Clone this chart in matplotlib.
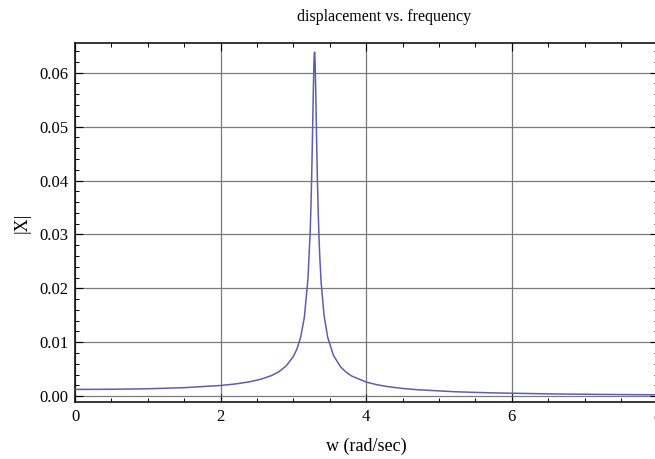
import matplotlib
matplotlib.use("Agg")
import matplotlib.pyplot as plt
from matplotlib.ticker import MultipleLocator, FormatStrFormatter

# Values
w_vals = [0.0, 0.5, 1.0, 1.5, 2.0, 2.2, 2.4, 2.55, 2.7, 2.8, 2.9, 3.0, 3.05, 3.1,
          3.15, 3.2, 3.23, 3.24, 3.25, 3.26, 3.27, 3.28, 3.285, 3.29, 3.295, 3.30,
          3.31, 3.32, 3.33, 3.34, 3.35, 3.36, 3.38, 3.42, 3.47, 3.55, 3.65, 3.72,
          3.8, 4.0, 4.15, 4.3, 4.5, 4.7, 5.2, 5.5, 5.8, 6.5, 7.2, 8.0]
x_vals = [0.00125, 0.00128, 0.001377, 0.001578, 0.001983, 0.002261, 0.002672,
          0.003131, 0.003829, 0.004534, 0.00560, 0.007377, 0.008817, 0.01099,
          0.01464, 0.02187, 0.03056, 0.03496, 0.04043, 0.0470, 0.0545, 0.0611,
          0.0631, 0.0638, 0.0629, 0.0607, 0.0539, 0.04623, 0.03965, 0.03425,
          0.02986, 0.02635, 0.02117, 0.01503, 0.01094, 0.007545, 0.005393,
          0.00449, 0.003733, 0.002614, 0.002115, 0.001765, 0.001435, 0.001201,
          0.000834, 0.000697, 0.000593, 0.000431, 0.000330, 0.000254]

title_text = "displacement vs. frequency"
xlabel_text = "w (rad/sec)"
ylabel_text = "|X|"

plt.rcParams['font.family'] = ['Liberation Serif', 'DejaVu Serif']

fig = plt.figure(figsize=(6.55, 4.59), dpi=100)
ax = fig.add_axes([75/655, 57/459, 582.5/655, 358.7/459])

ax.plot(w_vals, x_vals, color='#5e5eae', lw=1.1, zorder=3)

ax.set_xlim(0, 8)
ax.set_ylim(-0.00108, 0.06545)

ax.xaxis.set_major_locator(MultipleLocator(2))
ax.xaxis.set_minor_locator(MultipleLocator(0.5))
ax.yaxis.set_major_locator(MultipleLocator(0.01))
ax.yaxis.set_minor_locator(MultipleLocator(0.002))
ax.yaxis.set_major_formatter(FormatStrFormatter('%.2f'))

ax.tick_params(which='both', direction='in', top=True, right=True,
               labelsize=12, color='black')
ax.tick_params(which='major', length=6, width=0.8, pad=5)
ax.tick_params(which='minor', length=3, width=0.7)

ax.grid(True, which='major', color='#7a7a7a', lw=0.9, zorder=1)
for s in ax.spines.values():
    s.set_linewidth(1.1)
    s.set_color('black')

fig.text(384/655, 1 - 17/459, title_text, fontsize=11.5, ha='center', va='center')
fig.text(366/655, 1 - 446/459, xlabel_text, fontsize=13, ha='center', va='center')
ax.set_ylabel(ylabel_text, fontsize=13, labelpad=6)

fig.savefig("out.png", dpi=100)
